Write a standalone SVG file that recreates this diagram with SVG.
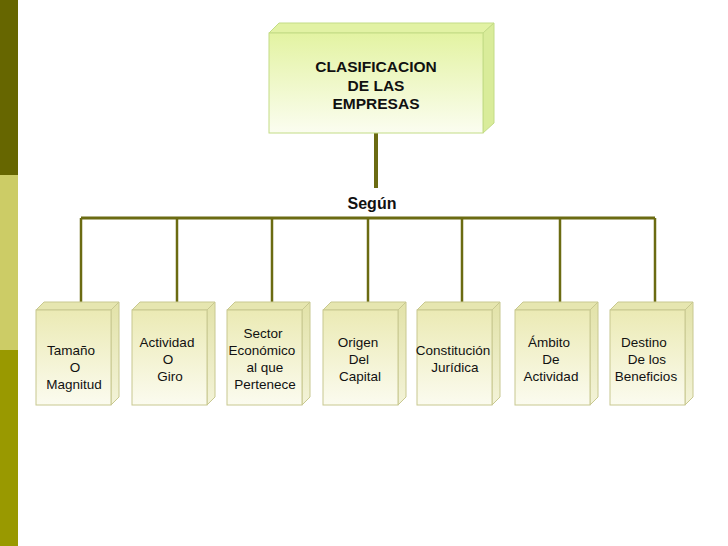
<svg xmlns="http://www.w3.org/2000/svg" width="728" height="546" viewBox="0 0 728 546">
<defs>
<linearGradient id="gTop" x1="0" y1="0" x2="0" y2="1">
<stop offset="0" stop-color="#e3f3a2"/><stop offset="1" stop-color="#fbfdf0"/>
</linearGradient>
<linearGradient id="gBox" x1="0" y1="0" x2="0" y2="1">
<stop offset="0" stop-color="#ebeab4"/><stop offset="1" stop-color="#fbfbef"/>
</linearGradient>
<linearGradient id="gSide" x1="0" y1="0" x2="0" y2="1">
<stop offset="0" stop-color="#e2e2a8"/><stop offset="1" stop-color="#f3f3d8"/>
</linearGradient>
</defs>
<style>
.t{font-family:"Liberation Sans",Arial,sans-serif;font-size:13.5px;fill:#111;text-anchor:middle}
.b{font-family:"Liberation Sans",Arial,sans-serif;font-weight:bold;fill:#111;text-anchor:middle}
.mainF{fill:url(#gTop);stroke:#c3dc86;stroke-width:1}
.mainT{fill:#e2f2a4;stroke:#c3dc86;stroke-width:1}
.mainR{fill:#d9ec9a;stroke:#c3dc86;stroke-width:1}
.bf{fill:url(#gBox);stroke:#c8c890;stroke-width:1}
.bt{fill:#e6e6b0;stroke:#c8c890;stroke-width:1}
.br{fill:url(#gSide);stroke:#c8c890;stroke-width:1}
.ln{stroke:#6b6b12;fill:none}
</style>
<rect x="0" y="0" width="728" height="546" fill="#ffffff"/>
<rect x="0" y="0" width="18" height="175" fill="#666600"/>
<rect x="0" y="175" width="18" height="175" fill="#cccc66"/>
<rect x="0" y="350" width="18" height="196" fill="#999900"/>

<g id="connectors">
<line class="ln" x1="376" y1="133" x2="376" y2="188" stroke-width="4"/>
<line class="ln" x1="81" y1="218" x2="655" y2="218" stroke-width="3"/>
<line class="ln" x1="81" y1="218" x2="81" y2="303" stroke-width="2.5"/>
<line class="ln" x1="177" y1="218" x2="177" y2="303" stroke-width="2.5"/>
<line class="ln" x1="272" y1="218" x2="272" y2="303" stroke-width="2.5"/>
<line class="ln" x1="368" y1="218" x2="368" y2="303" stroke-width="2.5"/>
<line class="ln" x1="462" y1="218" x2="462" y2="303" stroke-width="2.5"/>
<line class="ln" x1="560" y1="218" x2="560" y2="303" stroke-width="2.5"/>
<line class="ln" x1="655" y1="218" x2="655" y2="303" stroke-width="2.5"/>
<text class="b" x="372" y="209" font-size="16">Según</text>
</g>

<g id="main">
<polygon class="mainT" points="269,33 279,23 494,23 483,33"/>
<polygon class="mainR" points="483,33 494,23 494,123 483,133"/>
<rect class="mainF" x="269" y="33" width="214" height="100"/>
<text class="b" x="376" y="72" font-size="15.5">CLASIFICACION</text>
<text class="b" x="376" y="91" font-size="15.5">DE LAS</text>
<text class="b" x="376" y="109" font-size="15.5">EMPRESAS</text>
</g>

<g id="n1" transform="translate(36,0)">
<polygon class="bt" points="0,310 8,302 83,302 75,310"/>
<polygon class="br" points="75,310 83,302 83,397 75,405"/>
<rect class="bf" x="0" y="310" width="75" height="95"/>
<text class="t" x="35" y="355">Tamaño</text>
<text class="t" x="39" y="372">O</text>
<text class="t" x="38" y="389">Magnitud</text>
</g>
<g id="n2" transform="translate(132,0)">
<polygon class="bt" points="0,310 8,302 83,302 75,310"/>
<polygon class="br" points="75,310 83,302 83,397 75,405"/>
<rect class="bf" x="0" y="310" width="75" height="95"/>
<text class="t" x="35" y="347">Actividad</text>
<text class="t" x="36" y="364">O</text>
<text class="t" x="38" y="381">Giro</text>
</g>
<g id="n3" transform="translate(227,0)">
<polygon class="bt" points="0,310 8,302 83,302 75,310"/>
<polygon class="br" points="75,310 83,302 83,397 75,405"/>
<rect class="bf" x="0" y="310" width="75" height="95"/>
<text class="t" x="36" y="338">Sector</text>
<text class="t" x="35" y="355">Económico</text>
<text class="t" x="38" y="372">al que</text>
<text class="t" x="38" y="389">Pertenece</text>
</g>
<g id="n4" transform="translate(323,0)">
<polygon class="bt" points="0,310 8,302 83,302 75,310"/>
<polygon class="br" points="75,310 83,302 83,397 75,405"/>
<rect class="bf" x="0" y="310" width="75" height="95"/>
<text class="t" x="35" y="347">Origen</text>
<text class="t" x="36" y="364">Del</text>
<text class="t" x="37" y="381">Capital</text>
</g>
<g id="n5" transform="translate(417,0)">
<polygon class="bt" points="0,310 8,302 83,302 75,310"/>
<polygon class="br" points="75,310 83,302 83,397 75,405"/>
<rect class="bf" x="0" y="310" width="75" height="95"/>
<text class="t" x="36" y="355">Constitución</text>
<text class="t" x="38" y="372">Jurídica</text>
</g>
<g id="n6" transform="translate(515,0)">
<polygon class="bt" points="0,310 8,302 83,302 75,310"/>
<polygon class="br" points="75,310 83,302 83,397 75,405"/>
<rect class="bf" x="0" y="310" width="75" height="95"/>
<text class="t" x="34" y="347">Ámbito</text>
<text class="t" x="36" y="364">De</text>
<text class="t" x="36" y="381">Actividad</text>
</g>
<g id="n7" transform="translate(610,0)">
<polygon class="bt" points="0,310 8,302 83,302 75,310"/>
<polygon class="br" points="75,310 83,302 83,397 75,405"/>
<rect class="bf" x="0" y="310" width="75" height="95"/>
<text class="t" x="34" y="347">Destino</text>
<text class="t" x="37" y="364">De los</text>
<text class="t" x="36" y="381">Beneficios</text>
</g>
</svg>
